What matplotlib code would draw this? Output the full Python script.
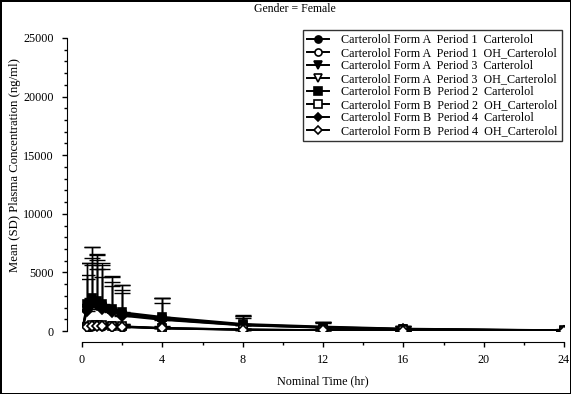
import numpy as np
import matplotlib
matplotlib.use("Agg")
import matplotlib.pyplot as plt

plt.rcParams['font.family'] = ['Liberation Serif', 'DejaVu Serif']

# nominal sampling times (hr)
time = [0, 0.25, 0.5, 0.75, 1, 1.5, 2, 4, 8, 12, 16, 24]

labels = [
	"Carterolol Form A  Period 1  Carterolol",
	"Carterolol Form A  Period 1  OH_Carterolol",
	"Carterolol Form A  Period 3  Carterolol",
	"Carterolol Form A  Period 3  OH_Carterolol",
	"Carterolol Form B  Period 2  Carterolol",
	"Carterolol Form B  Period 2  OH_Carterolol",
	"Carterolol Form B  Period 4  Carterolol",
	"Carterolol Form B  Period 4  OH_Carterolol",
]

# mean concentrations (ng/ml)
a1_car = [0, 2100, 2700, 2500, 2200, 1800, 1500, 1100, 550, 330, 180, 50]
a1_oh = [0, 350, 450, 480, 460, 420, 380, 250, 120, 70, 40, 10]
a3_car = [0, 1900, 2500, 2400, 2100, 1700, 1400, 1000, 500, 300, 160, 40]
a3_oh = [0, 320, 420, 450, 440, 400, 360, 230, 110, 65, 35, 10]
b2_car = [0, 2300, 2800, 2600, 2300, 1900, 1600, 1200, 600, 380, 200, 60]
b2_oh = [0, 380, 480, 500, 480, 440, 400, 260, 130, 75, 45, 12]
b4_car = [0, 1700, 2300, 2200, 1900, 1600, 1300, 950, 480, 280, 150, 40]
b4_oh = [0, 300, 400, 430, 420, 380, 340, 220, 100, 60, 30, 8]

# SD (upper bars only)
a1_car_sd = [0, 3700, 4500, 3600, 3100, 2400, 2000, 1700, 700, 400, 250, 60]
a1_oh_sd = [0, 200, 250, 250, 230, 200, 180, 120, 60, 40, 25, 8]
a3_car_sd = [0, 2900, 3700, 4200, 3500, 2900, 2500, 1800, 800, 450, 300, 50]
a3_oh_sd = [0, 180, 230, 240, 220, 190, 170, 110, 55, 35, 20, 6]
b2_car_sd = [0, 3500, 4400, 3900, 3500, 2800, 2300, 1600, 750, 420, 260, 70]
b2_oh_sd = [0, 210, 260, 260, 240, 210, 190, 130, 65, 40, 25, 8]
b4_car_sd = [0, 2700, 3300, 3100, 2700, 2200, 1900, 1400, 600, 380, 230, 50]
b4_oh_sd = [0, 170, 220, 230, 210, 180, 160, 100, 50, 30, 20, 5]

means = [a1_car, a1_oh, a3_car, a3_oh, b2_car, b2_oh, b4_car, b4_oh]
sds = [a1_car_sd, a1_oh_sd, a3_car_sd, a3_oh_sd, b2_car_sd, b2_oh_sd, b4_car_sd, b4_oh_sd]
markers = ['o', 'o', 'v', 'v', 's', 's', 'D', 'D']
filled = [True, False, True, False, True, False, True, False]

fig = plt.figure(figsize=(5.71, 3.94), dpi=100)
fig.patch.set_edgecolor('black')
fig.patch.set_linewidth(2)
W, H = 571.0, 394.0
ax = fig.add_axes([82 / W, 1 - 331 / H, (564 - 82) / W, (331 - 38) / H])

handles = []
for i in range(len(means)):
	fc = 'black' if filled[i] else 'white'
	ms = 5 if markers[i] == 'D' else 6
	z = 3 if filled[i] else 4
	yerr = [np.zeros(len(time)), sds[i]]
	ax.errorbar(time, means[i], yerr=yerr, fmt='none', ecolor='black',
		elinewidth=1, capsize=5.5, capthick=1, zorder=2)
	h, = ax.plot(time, means[i], color='black', lw=1.4, marker=markers[i],
		ms=ms, mfc=fc, mec='black', mew=1.2, zorder=z, label=labels[i])
	handles.append(h)

ax.set_xlim(0, 24)
ax.set_ylim(0, 25000)
ax.set_xticks([0, 4, 8, 12, 16, 20, 24])
ax.set_xticks([2, 6, 10, 14, 18, 22], minor=True)
ax.set_yticks([0, 5000, 10000, 15000, 20000, 25000])
ax.set_yticks(np.arange(0, 25001, 1000), minor=True)

for s in ['top', 'right']:
	ax.spines[s].set_visible(False)
ax.spines['left'].set_position(('outward', 10.8))
ax.spines['bottom'].set_position(('outward', 7.9))
ax.spines['left'].set_bounds(0, 25000)
ax.spines['bottom'].set_bounds(0, 24)
ax.tick_params(which='major', length=3.5, width=1, labelsize=8.7, pad=5)
ax.tick_params(axis='y', which='major', pad=6)
ax.tick_params(which='minor', length=2.5, width=1)

ax.set_xlabel("Nominal Time (hr)", fontsize=8.7, labelpad=7)
# y label sits a bit above the axes centre in the original
fig.text(15 / W, 1 - 165 / H, "Mean (SD) Plasma Concentration (ng/ml)", rotation=90,
	ha='center', va='center', fontsize=9.2)

fig.text(295 / W, 1 - 9 / H, "Gender = Female", ha='center', va='center', fontsize=8.5)

leg = ax.legend(handles=handles, loc='upper right', bbox_to_anchor=(562 / W, 1 - 30 / H),
	bbox_transform=fig.transFigure, borderaxespad=0, fontsize=8.7, frameon=True,
	fancybox=False, edgecolor='black', handlelength=1.8, handletextpad=1.0,
	labelspacing=0.08, borderpad=0.35, markerscale=0.85)
leg.get_frame().set_linewidth(1)

fig.savefig("out.png", dpi=100)
